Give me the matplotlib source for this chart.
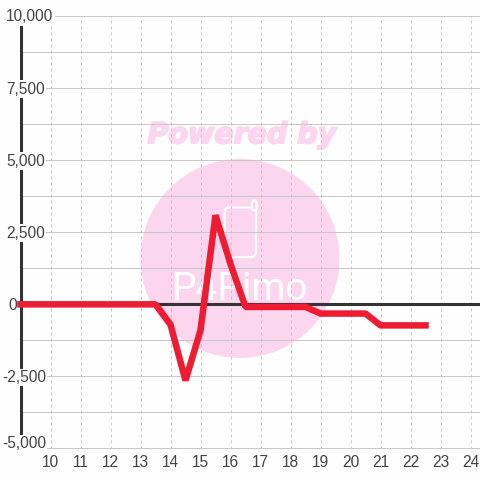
import matplotlib
matplotlib.use("Agg")
import matplotlib.pyplot as plt
import matplotlib.patheffects as pe
from matplotlib.patches import Circle, FancyBboxPatch
from matplotlib.transforms import blended_transform_factory, ScaledTranslation

x_values = [9, 10, 11, 12, 13, 13.5, 14, 14.5, 15, 15.5, 16, 16.5, 17, 18, 18.5, 19, 20, 20.5, 21, 22, 22.5]
y_values = [0, 0, 0, 0, 0, 0, -700, -2640, -900, 3090, 1400, -90, -90, -90, -90, -320, -320, -320, -730, -730, -730]
x_ticks = list(range(10, 25))
y_major = [-5000, -2500, 0, 2500, 5000, 7500, 10000]
y_minor = [-3750, -1250, 1250, 3750, 6250, 8750]
y_labels = ["-5,000", "-2,500", "0", "2,500", "5,000", "7,500", "10,000"]

W = 480
BG = "#fefefe"
fig = plt.figure(figsize=(4.8, 4.8), dpi=100, facecolor=BG)
L, R, T, B = 20, 480, 16, 448.5
ax = fig.add_axes([L / W, 1 - B / W, (R - L) / W, (B - T) / W], facecolor="none")
ax.set_xlim(10 - 30.5 / 30, 10 + 429.5 / 30)
ax.set_ylim(-5000, 10000)

bg = fig.add_axes([0, 0, 1, 1], facecolor="none", zorder=-1)
bg.set_xlim(0, W); bg.set_ylim(W, 0); bg.axis("off")
pink = "#fcd6ee"
bg.add_patch(Circle((240, 258.5), 99.5, fc=pink, ec="none"))
bg.text(242, 135, "Powered by", color=pink, fontsize=20.5, fontweight="bold", fontstyle="italic",
        family="DejaVu Sans", ha="center", va="center",
        path_effects=[pe.withStroke(linewidth=1.4, foreground=pink)])
bg.add_patch(FancyBboxPatch((224.5, 207.5), 31.5, 49.5, boxstyle="round,pad=0,rounding_size=5",
                            fc="none", ec="white", lw=1.5))
bg.add_patch(FancyBboxPatch((252, 200.5), 4.5, 10, boxstyle="round,pad=0,rounding_size=2",
                            fc=pink, ec="white", lw=1.5))
bg.text(240, 289, "P4Pimo", color="white", fontsize=28, family="Roboto", ha="center", va="center")

ax.set_zorder(1)
for s in ax.spines.values():
    s.set_visible(False)
ax.set_xticks(x_ticks)
ax.set_xticklabels([str(t) for t in x_ticks], fontsize=11.2, color="#444444", family="Liberation Sans")
ax.set_yticks(y_major + y_minor)
ax.set_yticklabels([])
ax.tick_params(length=0)
ax.tick_params(axis="x", pad=5)
ax.grid(axis="y", color="#c8c8c8", lw=0.72, zorder=1)
ax.grid(axis="x", color="#c8c8c8", lw=0.72, ls=(0, (3, 3)), zorder=1)
ax.set_axisbelow(True)

ax.axhline(0, color="#333333", lw=2.2, zorder=2)
ax.axvline(9, color="#333333", lw=2.2, zorder=2)

tr = blended_transform_factory(fig.transFigure, ax.transData)
shift = ScaledTranslation(0, -1 / 100, fig.dpi_scale_trans)
for v, lab in zip(y_major, y_labels):
    left = 2 if v < 0 else (8 if v == 0 else 6)
    offset = 210 if v == -5000 else 0
    ax.text(left / W, v + offset, lab, transform=tr + shift, ha="left", va="center", fontsize=11.2, color="#444444",
            family="Liberation Sans", zorder=3, clip_on=False,
            bbox=dict(fc=BG, ec="none", pad=1.0))

ax.plot(x_values, y_values, color="#ee1c33", lw=4.7, solid_joinstyle="bevel", solid_capstyle="projecting",
        zorder=4, clip_on=False)
fig.savefig("out.png", dpi=100, facecolor=fig.get_facecolor())
